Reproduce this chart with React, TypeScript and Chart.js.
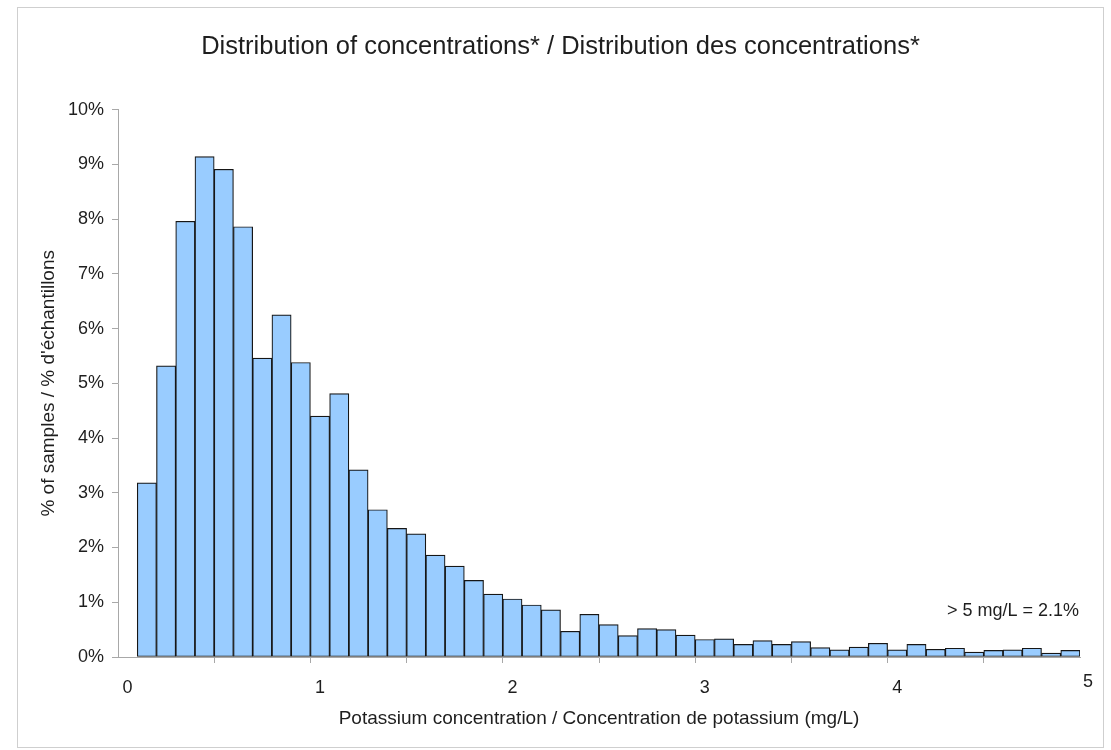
import React, { useEffect, useRef } from 'react';
import { Chart, registerables } from 'chart.js';

Chart.register(...registerables);

// bin start (mg/L), one bar per 0.1 mg/L class
const binStarts = [
  0, 0.1, 0.2, 0.3, 0.4, 0.5, 0.6, 0.7, 0.8, 0.9,
  1.0, 1.1, 1.2, 1.3, 1.4, 1.5, 1.6, 1.7, 1.8, 1.9,
  2.0, 2.1, 2.2, 2.3, 2.4, 2.5, 2.6, 2.7, 2.8, 2.9,
  3.0, 3.1, 3.2, 3.3, 3.4, 3.5, 3.6, 3.7, 3.8, 3.9,
  4.0, 4.1, 4.2, 4.3, 4.4, 4.5, 4.6, 4.7, 4.8, 4.9,
];

// % of samples in each bin
const samplePercent = [
  null, 3.18, 5.32, 7.96, 9.14, 8.91, 7.86, 5.46, 6.25, 5.38,
  4.40, 4.81, 3.42, 2.69, 2.35, 2.25, 1.86, 1.66, 1.40, 1.15,
  1.06, 0.95, 0.86, 0.47, 0.78, 0.59, 0.39, 0.52, 0.50, 0.40,
  0.32, 0.33, 0.23, 0.30, 0.23, 0.28, 0.17, 0.13, 0.18, 0.25,
  0.13, 0.23, 0.14, 0.16, 0.09, 0.12, 0.13, 0.16, 0.07, 0.12,
];

const xTickLabels = ['0', '1', '2', '3', '4', '5'];
const overFiveNote = '> 5 mg/L = 2.1%';

const FONT = "'Liberation Sans', Arial, Helvetica, sans-serif";
const TEXT = '#1e1e1e';
const AXIS = '#a8a8a8';

// last "5" label sits past the final bin, plus the >5 mg/L note
const extraLabels = {
  id: 'extraLabels',
  afterDraw(chart: any) {
    const { ctx, chartArea, scales } = chart;
    ctx.save();
    ctx.fillStyle = TEXT;
    ctx.font = `18px ${FONT}`;
    ctx.textAlign = 'center';
    ctx.textBaseline = 'middle';
    ctx.fillText(xTickLabels[xTickLabels.length - 1], chartArea.right + 8, scales.x.top + 25);
    ctx.textAlign = 'right';
    ctx.fillText(overFiveNote, chartArea.right - 1, scales.y.getPixelForValue(0.84));
    ctx.restore();
  },
};

export default function App() {
  const chartRef = useRef<HTMLCanvasElement | null>(null);
  const myChartRef = useRef<Chart | null>(null);

  useEffect(() => {
    if (myChartRef.current) {
      myChartRef.current.destroy();
    }

    const data = {
      labels: binStarts.map((b) => String(b)),
      datasets: [
        {
          label: '% of samples',
          data: samplePercent,
          backgroundColor: '#99ccff',
          borderColor: '#161616',
          borderWidth: 1.2,
          borderSkipped: false,
          barPercentage: 1,
          categoryPercentage: 1,
        },
      ],
    };

    const options: any = {
      responsive: true,
      maintainAspectRatio: false,
      animation: false,
      layout: { padding: { left: 0, right: 0, top: 0, bottom: 13 } },
      plugins: {
        legend: { display: false },
        tooltip: { enabled: false },
        title: {
          display: true,
          text: 'Distribution of concentrations* / Distribution des concentrations*',
          color: TEXT,
          font: { family: FONT, size: 25.5, weight: 'normal' },
          padding: { top: 24, bottom: 47 },
        },
      },
      scales: {
        x: {
          type: 'category',
          offset: true,
          afterFit: (scale: any) => {
            scale.height = 77;
          },
          grid: {
            offset: true,
            drawOnChartArea: false,
            drawTicks: true,
            tickLength: 6,
            color: (ctx: any) => (ctx.index > 0 && ctx.index % 5 === 0 ? AXIS : 'rgba(0,0,0,0)'),
          },
          border: { display: true, color: AXIS, width: 1 },
          ticks: {
            autoSkip: false,
            maxRotation: 0,
            padding: 14,
            color: TEXT,
            font: { family: FONT, size: 18 },
            callback: (_v: any, i: number) => (i % 10 === 0 ? xTickLabels[i / 10] : ''),
          },
          title: {
            display: true,
            text: 'Potassium concentration / Concentration de potassium (mg/L)',
            color: TEXT,
            font: { family: FONT, size: 19 },
            padding: { top: 0, bottom: 4 },
          },
        },
        y: {
          min: 0,
          max: 10,
          afterFit: (scale: any) => {
            scale.width = 100;
          },
          grid: {
            drawOnChartArea: false,
            drawTicks: true,
            tickLength: 6,
            color: AXIS,
          },
          border: { display: true, color: AXIS, width: 1 },
          ticks: {
            stepSize: 1,
            padding: 8,
            color: TEXT,
            font: { family: FONT, size: 18 },
            callback: (v: any) => v + '%',
          },
          title: {
            display: true,
            text: "% of samples / % d'échantillons",
            color: TEXT,
            font: { family: FONT, size: 19 },
            padding: { top: 19, bottom: 0 },
          },
        },
        // empty right-hand margin so the title stays centred on the whole frame
        yRight: {
          position: 'right',
          display: true,
          afterFit: (scale: any) => {
            scale.width = 23;
          },
          grid: { display: false },
          border: { display: false },
          ticks: { display: false },
        },
      },
    };

    if (chartRef.current) {
      myChartRef.current = new Chart(chartRef.current, {
        type: 'bar',
        data: data,
        options: options,
        plugins: [extraLabels],
      });
    }

    return () => {
      if (myChartRef.current) {
        myChartRef.current.destroy();
      }
    };
  }, []);

  return (
    <div
      style={{
        position: 'absolute',
        left: 17,
        top: 7,
        width: 1087,
        height: 741,
        boxSizing: 'border-box',
        border: '1px solid #cfcfcf',
        background: '#fff',
      }}
    >
      <canvas ref={chartRef} />
    </div>
  );
}
